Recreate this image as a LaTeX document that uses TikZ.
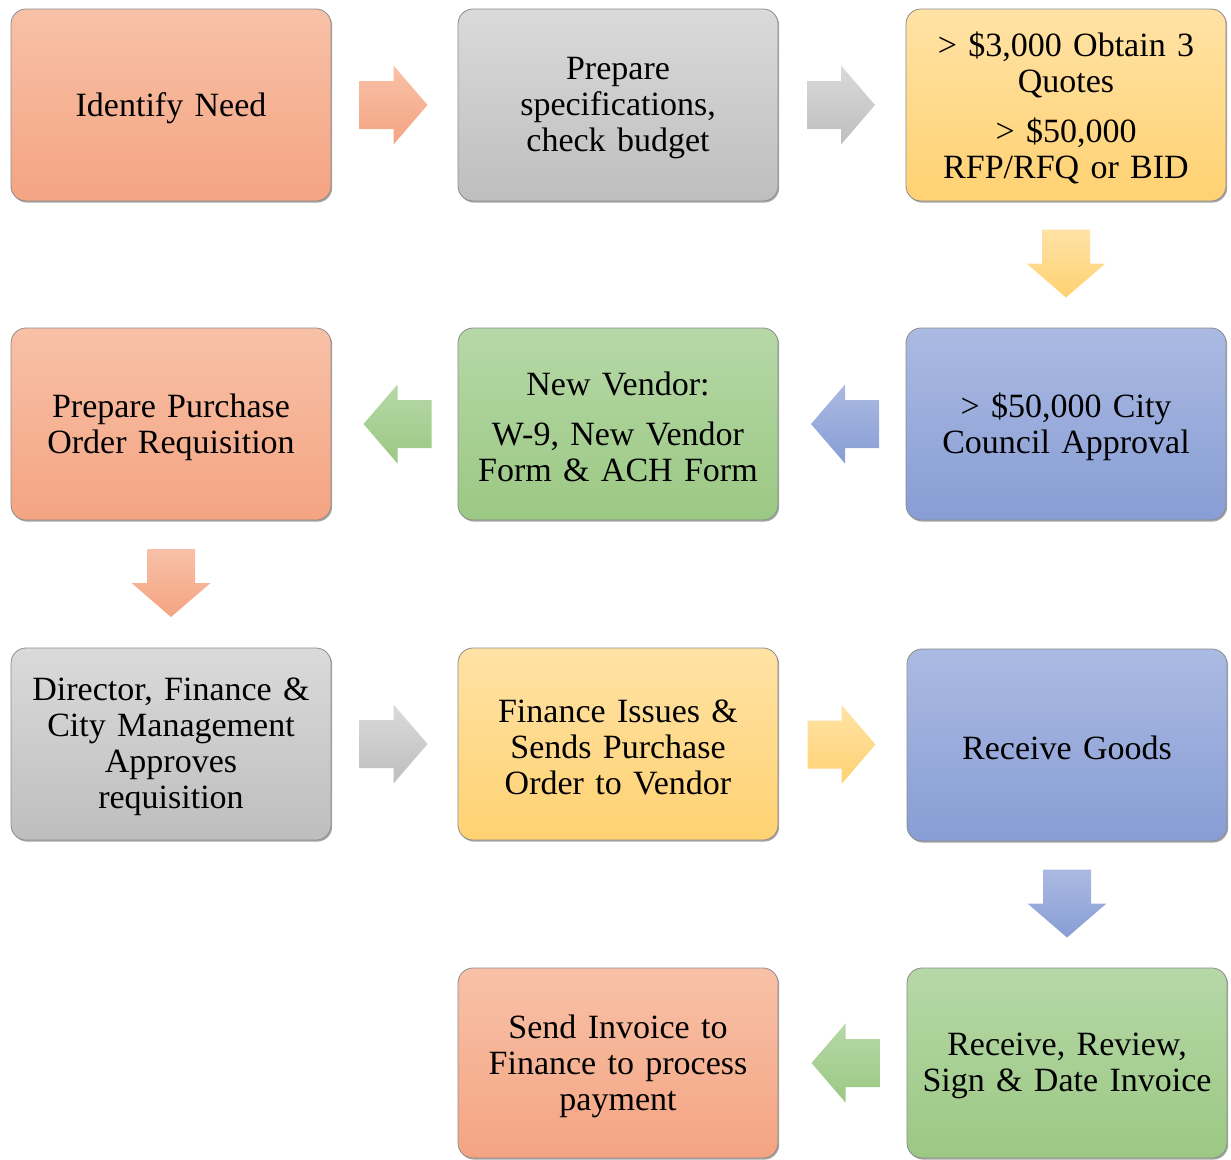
\documentclass[tikz,border=0pt]{standalone}
\usepackage{fontspec}
\setmainfont{Liberation Serif}
\usetikzlibrary{calc,shadows}

% Gradient palettes (top / bottom)
\definecolor{orT}{HTML}{F8C1A7}\definecolor{orB}{HTML}{F4A482}
\definecolor{grT}{HTML}{DADADA}\definecolor{grB}{HTML}{BEBEBE}
\definecolor{ylT}{HTML}{FFE2A5}\definecolor{ylB}{HTML}{FFD272}
\definecolor{blT}{HTML}{ABBAE2}\definecolor{blB}{HTML}{889DD5}
\definecolor{gnT}{HTML}{B6D8A7}\definecolor{gnB}{HTML}{9BC883}

\tikzset{
  stepbox/.style={draw=black!45, line width=0.8pt, rounded corners=15pt,
    minimum width=320pt, minimum height=192pt, inner sep=0pt,
    drop shadow={shadow xshift=1.2pt, shadow yshift=-1.6pt, opacity=0.35, fill=black}},
  boxtext/.style={align=center, text width=306pt, inner sep=0pt,
    font=\fontsize{34}{36}\selectfont},
  orbox/.style={stepbox, top color=orT, bottom color=orB},
  grbox/.style={stepbox, top color=grT, bottom color=grB},
  ylbox/.style={stepbox, top color=ylT, bottom color=ylB},
  blbox/.style={stepbox, top color=blT, bottom color=blB},
  gnbox/.style={stepbox, top color=gnT, bottom color=gnB},
}

% A step: box #2 with style #1 at #3, its text #4 set slightly below centre
\newcommand{\StepNode}[4]{%
  \node[#1] (#2) at #3 {};
  \node[boxtext] (#2t) at ($(#2.center)+(0,3)$) {#4};}

% Block arrows centred on a named coordinate: #1 centre, #2 top colour, #3 bottom colour
\newcommand{\ArrRight}[3]{\shade[top color=#2, bottom color=#3, shift={(#1)}]
  (-34,-24) -- (0,-24) -- (0,-39.5) -- (34,0) -- (0,39.5) -- (0,24) -- (-34,24) -- cycle;}
\newcommand{\ArrLeft}[3]{\shade[top color=#2, bottom color=#3, shift={(#1)}]
  (34,-24) -- (0,-24) -- (0,-39.5) -- (-34,0) -- (0,39.5) -- (0,24) -- (34,24) -- cycle;}
\newcommand{\ArrDown}[3]{\shade[top color=#2, bottom color=#3, shift={(#1)}]
  (-24,-34) -- (-24,0) -- (-39.5,0) -- (0,34) -- (39.5,0) -- (24,0) -- (24,-34) -- cycle;}

\begin{document}
\begin{tikzpicture}[x=1pt, y=-1pt]
\useasboundingbox (0,0) rectangle (1231,1159);

% Row 1
\StepNode{orbox}{n1}{(171,105)}{Identify Need}
\StepNode{grbox}{n2}{(618,105)}{Prepare\\specifications,\\check budget}
\StepNode{ylbox}{n3}{(1066,105)}{> \$3,000 Obtain 3\\Quotes\\[14pt]> \$50,000\\RFP/RFQ or BID}
% Row 2
\StepNode{blbox}{n4}{(1066,424)}{> \$50,000 City\\Council Approval}
\StepNode{gnbox}{n5}{(618,424)}{New Vendor:\\[14pt]W-9, New Vendor\\Form \& ACH Form}
\StepNode{orbox}{n6}{(171,424)}{Prepare Purchase\\Order Requisition}
% Row 3
\StepNode{grbox}{n7}{(171,744)}{Director, Finance \&\\City Management\\Approves\\requisition}
\StepNode{ylbox}{n8}{(618,744)}{Finance Issues \&\\Sends Purchase\\Order to Vendor}
\StepNode{blbox}{n9}{(1067,745)}{Receive Goods}
% Row 4
\StepNode{gnbox, minimum height=190pt}{n10}{(1067,1063)}{Receive, Review,\\Sign \& Date Invoice}
\StepNode{orbox, minimum height=190pt}{n11}{(618,1063)}{Send Invoice to\\Finance to process\\payment}

% Arrow centres between neighbouring steps
\coordinate (a12) at ($(n1.east)!0.5!(n2.west)+(-1,0)$);
\coordinate (a23) at ($(n2.east)!0.5!(n3.west)+(-1,0)$);
\coordinate (a34) at ($(n3.south)!0.5!(n4.north)+(0,-1)$);
\coordinate (a45) at ($(n4.west)!0.5!(n5.east)+(3,0)$);
\coordinate (a56) at ($(n5.west)!0.5!(n6.east)+(3,0)$);
\coordinate (a67) at ($(n6.south)!0.5!(n7.north)+(0,-1)$);
\coordinate (a78) at ($(n7.east)!0.5!(n8.west)+(-1,0)$);
\coordinate (a89) at ($(n8.east)!0.5!(n9.west)+(-1,0)$);
\coordinate (a910) at ($(n9.south)!0.5!(n10.north)+(0,-1)$);
\coordinate (a1011) at ($(n10.west)!0.5!(n11.east)+(3,0)$);

\ArrRight{a12}{orT}{orB}
\ArrRight{a23}{grT}{grB}
\ArrDown{a34}{ylT}{ylB}
\ArrLeft{a45}{blT}{blB}
\ArrLeft{a56}{gnT}{gnB}
\ArrDown{a67}{orT}{orB}
\ArrRight{a78}{grT}{grB}
\ArrRight{a89}{ylT}{ylB}
\ArrDown{a910}{blT}{blB}
\ArrLeft{a1011}{gnT}{gnB}
\end{tikzpicture}
\end{document}
